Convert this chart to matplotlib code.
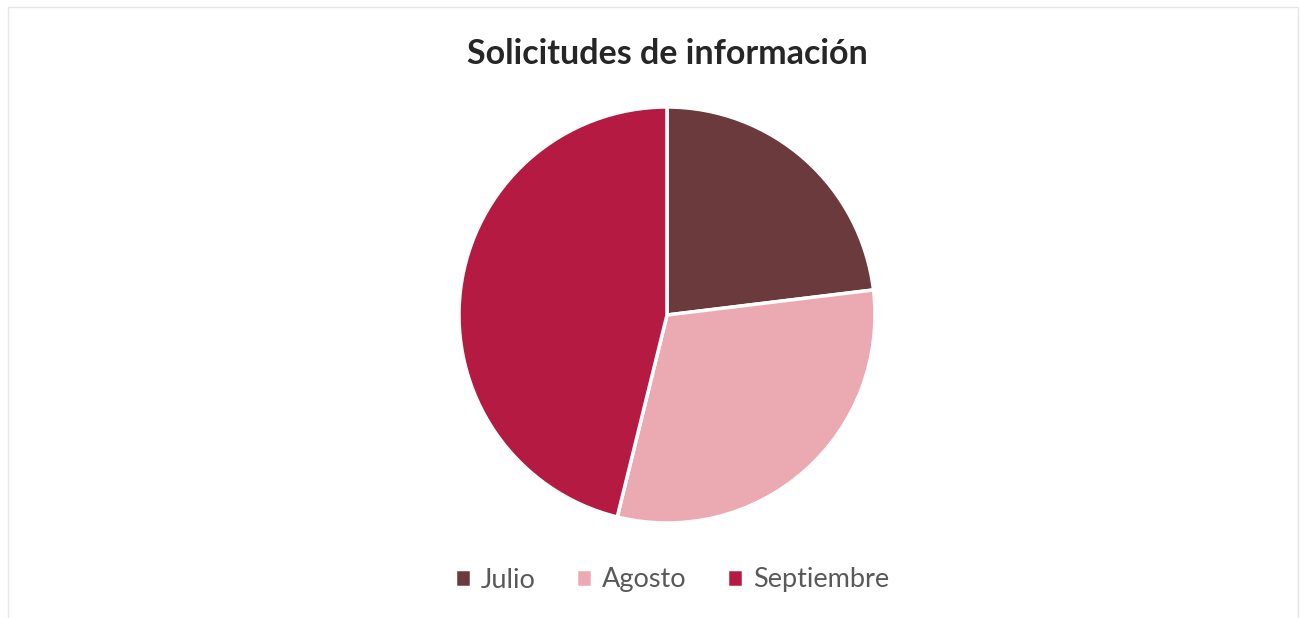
import matplotlib.pyplot as plt
from matplotlib.patches import Rectangle

# ------------------------------------------------------------
# Data
# ------------------------------------------------------------
meses = ["Julio", "Agosto", "Septiembre"]
solicitudes = [21, 28, 42]
colores = ["#6B3A3C", "#EBAAB1", "#B51A42"]

# ------------------------------------------------------------
# Plot
# ------------------------------------------------------------
fig = plt.figure(figsize=(13.03, 6.18), dpi=100)
fig.patch.set_facecolor("white")

# faint chart frame
fig.patches.append(Rectangle((0.006, -0.01), 0.99, 0.998, transform=fig.transFigure,
                             fill=False, edgecolor="#e6e6e6", linewidth=1))

# pie centre ~ (667, 315) px, radius ~208 px
r = 208
cx, cy = 667, 315
ax = fig.add_axes([(cx - r) / 1303, (618 - cy - r) / 618, 2 * r / 1303, 2 * r / 618])
wedges, _ = ax.pie(solicitudes, colors=colores, startangle=90, counterclock=False,
                   radius=1.0, wedgeprops=dict(edgecolor="white", linewidth=2.5))
ax.set_xlim(-1, 1)
ax.set_ylim(-1, 1)
ax.set_aspect("equal")

fig.text(cx / 1303, 1 - 54 / 618, "Solicitudes de información", ha="center", va="center",
         fontsize=24.5, fontweight="bold", family="Lato", color="#262626")

leg = fig.legend(wedges, meses, loc="center", bbox_to_anchor=(672 / 1303, 1 - 580 / 618),
                 ncol=3, frameon=False, handlelength=0.6, handleheight=0.6,
                 handletextpad=0.35, columnspacing=1.5, prop=dict(family="Lato", size=19.5))
for t in leg.get_texts():
    t.set_color("#595959")

fig.savefig("out.png", dpi=100, facecolor="white")
